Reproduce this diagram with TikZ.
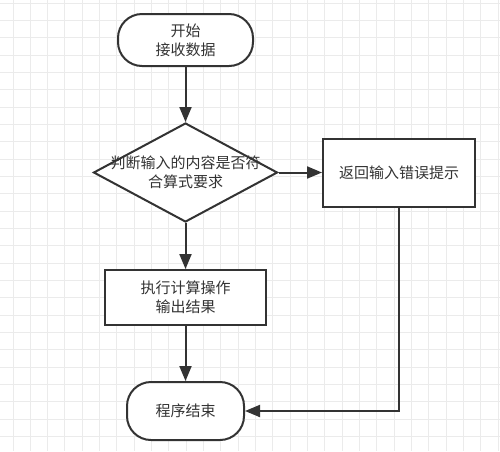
\documentclass[tikz,border=0pt]{standalone}
\usepackage{fontspec}
\newfontfamily\cjk{Noto Sans CJK SC}
\usetikzlibrary{shapes.geometric,arrows.meta}
\definecolor{linegray}{HTML}{333333}
\definecolor{gridgray}{HTML}{EBEBEB}
\begin{document}
\begin{tikzpicture}[x=1pt,y=-1pt,
    line width=2pt,
    box/.style = {draw=linegray,fill=white,rectangle,inner sep=0pt,
        align=center,text=linegray},
    term/.style = {box,rounded corners=24pt},
    decision/.style = {draw=linegray,fill=white,diamond,inner sep=0pt},
    flow/.style = {draw=linegray,-{Triangle[length=15pt,width=12pt]}},
    gridline/.style = {draw=gridgray,line width=1pt},
    font=\cjk\fontsize{15}{19}\selectfont]

\useasboundingbox (0,0) rectangle (500,451);
\fill[white] (0,0) rectangle (500,451);

% Grid
\foreach \i in {0,...,28}
    \draw[gridline] (13+\i*17.33,0) -- (13+\i*17.33,451);
\foreach \j in {0,...,25}
    \draw[gridline] (0,3.3+\j*17.33) -- (500,3.3+\j*17.33);

% Start
\node[term,minimum width=135pt,minimum height=52pt] (start) at (185.5,40) {开始\\接收数据};

% Check input
\node[decision,minimum width=184pt,minimum height=99pt,
    label={[align=center,text=linegray]center:判断输入的内容是否符\\合算式要求}] (check) at (185.5,172.5) {};

% Error message
\node[box,minimum width=152pt,minimum height=68pt] (error) at (399,172.5) {返回输入错误提示};

% Compute
\node[box,minimum width=161pt,minimum height=55pt] (calc) at (185.5,297.5) {执行计算操作\\输出结果};

% End
\node[term,minimum width=117pt,minimum height=58pt] (stop) at (185.5,411) {程序结束};

% Connectors
\draw[flow] (start) -- (check);
\draw[flow] (check) -- (error);
\draw[flow] (check) -- (calc);
\draw[flow] (calc) -- (stop);
\draw[flow] (error.south) |- (stop.east);
\end{tikzpicture}
\end{document}
